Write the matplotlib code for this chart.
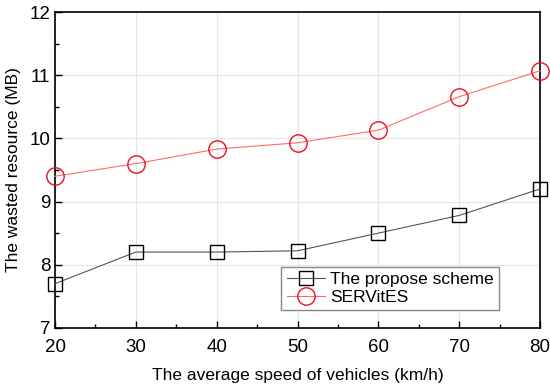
import matplotlib
matplotlib.use("Agg")
import matplotlib.pyplot as plt
from matplotlib.ticker import MultipleLocator

speed = [20, 30, 40, 50, 60, 70, 80]
proposed = [7.70, 8.20, 8.20, 8.22, 8.50, 8.78, 9.20]
servites = [9.40, 9.60, 9.83, 9.93, 10.13, 10.66, 11.07]

plt.rcParams["font.family"] = ["Liberation Sans", "DejaVu Sans"]

fig = plt.figure(figsize=(5.5, 3.88), dpi=100)
ax = fig.add_axes([0.1, 0.155, 0.882, 0.814])

ax.plot(speed, proposed, color="#555555", lw=0.8, marker="s", ms=10,
        mfc="none", mec="black", mew=1.0, label="The propose scheme", clip_on=False, zorder=3)
ax.plot(speed, servites, color="#ff6b6b", lw=0.8, marker="o", ms=12.5,
        mfc="none", mec="#e8101e", mew=1.0, label="SERVitES", clip_on=False, zorder=3)

ax.set_xlim(20, 80)
ax.set_ylim(7, 12)
ax.xaxis.set_major_locator(MultipleLocator(10))
ax.xaxis.set_minor_locator(MultipleLocator(5))
ax.yaxis.set_major_locator(MultipleLocator(1))
ax.yaxis.set_minor_locator(MultipleLocator(0.5))
ax.tick_params(which="both", direction="in", labelsize=13.5, width=1)
ax.tick_params(which="major", length=5)
ax.tick_params(which="minor", length=3)
ax.tick_params(axis="x", pad=8)
ax.grid(True, which="major", color="#e6e6e6", lw=0.8)
ax.set_axisbelow(True)
for s in ax.spines.values():
    s.set_linewidth(1.2)

ax.set_xlabel("The average speed of vehicles (km/h)", fontsize=12.5, labelpad=9)
ax.set_ylabel("The wasted resource (MB)", fontsize=12.5, labelpad=6)

ax.legend(loc="lower right", bbox_to_anchor=(0.915, 0.057), borderaxespad=0,
          fontsize=12.5, fancybox=False, edgecolor="#888888", framealpha=1,
          handlelength=2.2, borderpad=0.3, labelspacing=0.15, handletextpad=0.3)

fig.savefig("out.png", dpi=100)
